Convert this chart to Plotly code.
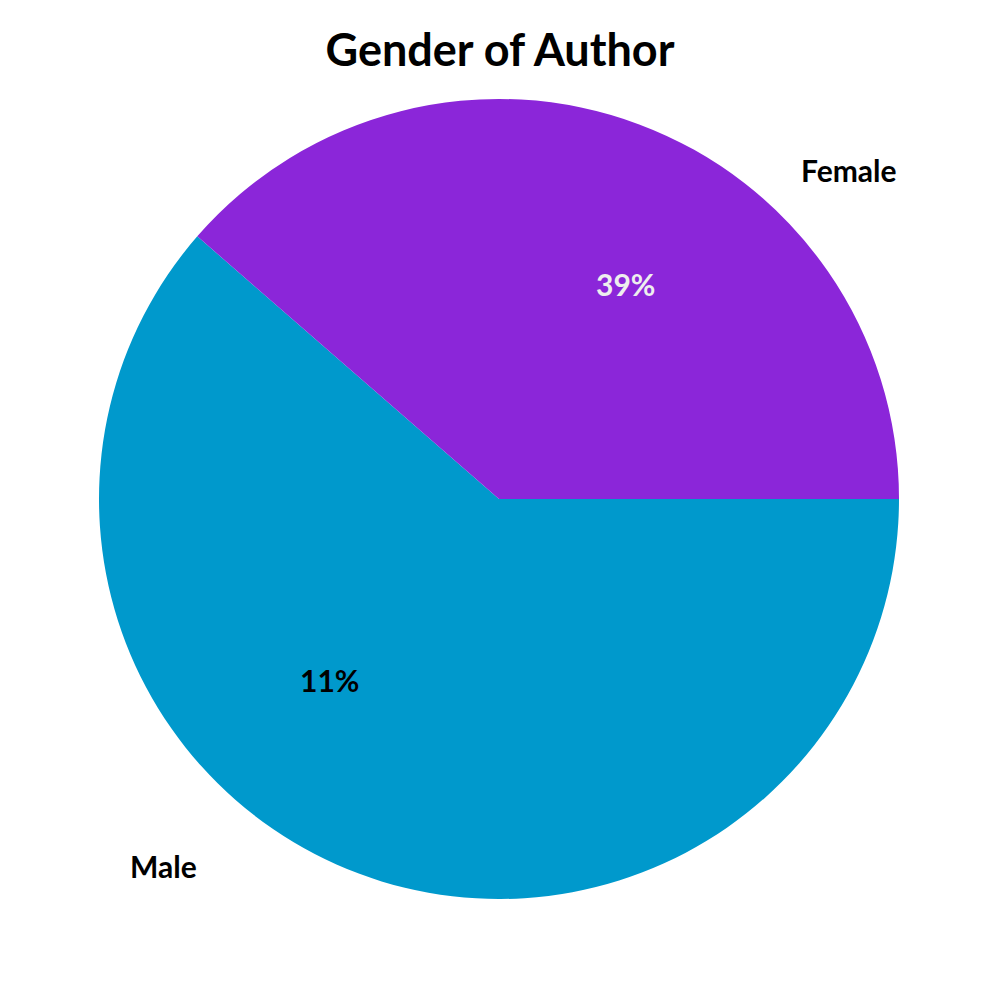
import plotly.graph_objects as go

# Data
categories = ["Male", "Female"]
values = [61.4, 38.6]
pct_labels = ["11%", "39%"]
colors = ["#0099CC", "#8B26D9"]
pct_colors = ["#000000", "#EEEEEE"]

FONT = "Lato"

fig = go.Figure()
fig.add_trace(go.Pie(
    labels=categories,
    values=values,
    sort=False,
    direction="counterclockwise",
    rotation=90,
    marker=dict(colors=colors, line=dict(width=0)),
    textinfo="none",
    hoverinfo="label+percent",
    showlegend=False,
    domain=dict(x=[0.091, 0.891], y=[0.109, 0.909]),
))

# Outer category labels and inner percentage labels (page body has an 8px offset)
label_pos = [(0.155, 0.142), (0.840, 0.838)]
pct_pos = [(0.321, 0.328), (0.617, 0.724)]
annotations = []
for cat, (x, y) in zip(categories, label_pos):
    annotations.append(dict(text=cat, x=x, y=y, xref="paper", yref="paper",
                            showarrow=False, xanchor="center", yanchor="middle",
                            font=dict(family=FONT, size=30, color="#000000", weight="bold")))
for lab, col, (x, y) in zip(pct_labels, pct_colors, pct_pos):
    annotations.append(dict(text=lab, x=x, y=y, xref="paper", yref="paper",
                            showarrow=False, xanchor="center", yanchor="middle",
                            font=dict(family=FONT, size=30, color=col, weight="bold")))

fig.update_layout(
    width=1000, height=1000,
    margin=dict(l=0, r=0, t=0, b=0),
    paper_bgcolor="white", plot_bgcolor="white",
    title=dict(text="Gender of Author", x=0.492, xanchor="center", y=0.958, yanchor="middle",
               font=dict(family=FONT, size=45, color="#000000", weight="bold")),
    annotations=annotations,
)

fig.write_html("out.html")
